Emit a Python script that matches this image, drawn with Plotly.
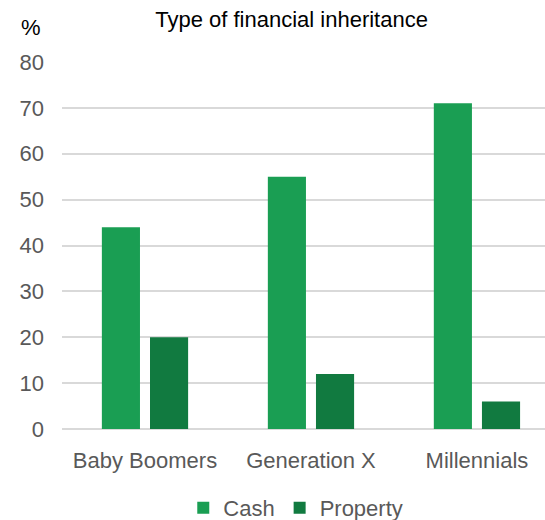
import plotly.graph_objects as go

categories = ["Baby Boomers", "Generation X", "Millennials"]
cash = [44, 55, 71]
property_ = [20, 12, 6]
y_ticks = [0, 10, 20, 30, 40, 50, 60, 70, 80]

fig = go.Figure()
fig.add_trace(go.Bar(name="Cash", x=categories, y=cash, marker_color="#1a9e53",
                     marker_line_width=0))
fig.add_trace(go.Bar(name="Property", x=categories, y=property_, marker_color="#117a40",
                     marker_line_width=0))

fig.update_layout(
    width=545, height=520,
    margin=dict(l=62, r=0, t=62, b=91, autoexpand=False),
    paper_bgcolor="white", plot_bgcolor="white",
    font=dict(family="Liberation Sans, Arial, sans-serif", size=22, color="#595959"),
    barmode="group", bargap=0.42, bargroupgap=0.208,
    title=dict(text="Type of financial inheritance", x=0.535, xanchor="center",
               y=0.962, yanchor="middle", font=dict(size=22, color="#000000")),
    showlegend=True,
    legend=dict(orientation="h", x=0.484, xanchor="center", y=-0.215, yanchor="middle",
                font=dict(size=22, color="#595959"), itemwidth=30,
                tracegroupgap=0),
    xaxis=dict(range=[-0.5, 2.41], showgrid=False, showline=False, ticks="",
               ticklabelstandoff=16, automargin=False,
               tickfont=dict(size=22, color="#595959")),
    yaxis=dict(range=[0, 80], tickvals=y_ticks, showgrid=True, gridcolor="#d9d9d9",
               gridwidth=1.5, zeroline=True, zerolinecolor="#d9d9d9", zerolinewidth=1.5,
               showline=False, ticks="", ticklabelstandoff=17, automargin=False,
               tickfont=dict(size=22, color="#595959")),
)

fig.add_annotation(text="%", xref="paper", yref="paper", x=-0.065, y=1.093,
                   xanchor="center", yanchor="middle", showarrow=False,
                   font=dict(size=22, color="#000000"))

fig.write_html("out.html")
